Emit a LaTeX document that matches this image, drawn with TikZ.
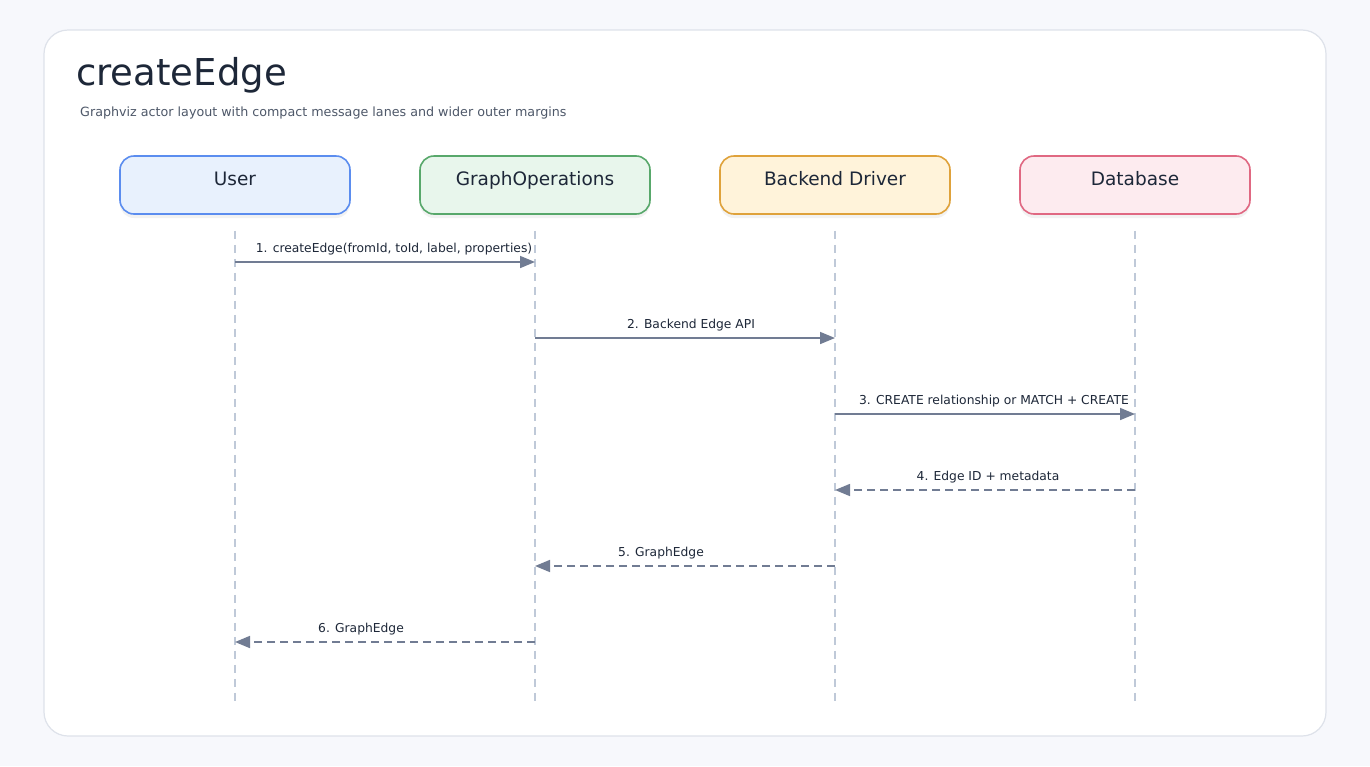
\documentclass[tikz,border=0pt]{standalone}
\usepackage{fontspec}
\setmainfont{DejaVu Sans}
\usetikzlibrary{arrows.meta,shadows}

\definecolor{pagebg}{HTML}{F7F8FC}
\definecolor{cardline}{HTML}{DEE2EA}
\definecolor{ink}{HTML}{1D2738}
\definecolor{subink}{HTML}{4E5869}
\definecolor{wire}{HTML}{717C93}
\definecolor{lane}{HTML}{BFC9D8}
\definecolor{userfill}{HTML}{E8F1FD}
\definecolor{userline}{HTML}{5B8DEF}
\definecolor{opsfill}{HTML}{E8F6EC}
\definecolor{opsline}{HTML}{58A86B}
\definecolor{drvfill}{HTML}{FFF3DA}
\definecolor{drvline}{HTML}{DFA23B}
\definecolor{dbfill}{HTML}{FDEBEF}
\definecolor{dbline}{HTML}{E06882}

\tikzset{
  actor/.style={draw, line width=1.6pt, rounded corners=14pt,
    minimum width=230pt, minimum height=58pt, text=ink,
    font=\fontsize{18.5}{22}\selectfont, text height=15pt, text depth=15pt,
    drop shadow={fill=black, opacity=0.05, shadow xshift=0pt, shadow yshift=-4pt}},
  lifeline/.style={draw=lane, line width=1.3pt, dash pattern=on 8pt off 6pt},
  msg/.style={draw=wire, line width=1.6pt, -{Triangle[length=15pt,width=12pt]}},
  reply/.style={msg, dash pattern=on 8pt off 5pt},
  msglabel/.style={anchor=base, yshift=10pt, inner sep=0pt, text=ink,
    font=\fontsize{12.3}{14}\selectfont}
}

\begin{document}
\begin{tikzpicture}[x=1pt, y=-1pt]
  \useasboundingbox (0,0) rectangle (1370,766);
  \fill[pagebg] (0,0) rectangle (1370,766);
  \draw[cardline, fill=white, line width=1.2pt, rounded corners=24pt] (44,30) rectangle (1326,736);

  % heading
  \node (title) at (76,85) [anchor=base west, inner sep=0pt, text=ink, font=\fontsize{37}{42}\selectfont] {createEdge};
  \node (subtitle) at (80,116) [anchor=base west, inner sep=0pt, text=subink, font=\fontsize{12.7}{15}\selectfont] {Graphviz actor layout with compact message lanes and wider outer margins};

  % actors
  \node (user) at (235,185) [actor, fill=userfill, draw=userline] {User};
  \node (ops)  at (535,185) [actor, fill=opsfill, draw=opsline] {GraphOperations};
  \node (drv)  at (835,185) [actor, fill=drvfill, draw=drvline] {Backend Driver};
  \node (db)   at (1135,185) [actor, fill=dbfill, draw=dbline] {Database};

  \foreach \a in {user,ops,drv,db}
    \draw[lifeline] (\a.south) ++(0,16) -- ++(0,470);

  % message lanes
  \foreach \i/\y in {1/262,2/338,3/414,4/490,5/566,6/642}
    \foreach \a in {user,ops,drv,db}
      \coordinate (\a-\i) at (\a |- 0,\y);

  \draw[msg] (user-1) -- node[msglabel, pos=.53] {1. createEdge(fromId, toId, label, properties)} (ops-1);
  \draw[msg] (ops-2) -- node[msglabel, pos=.52] {2. Backend Edge API} (drv-2);
  \draw[msg] (drv-3) -- node[msglabel, pos=.53] {3. CREATE relationship or MATCH + CREATE} (db-3);
  \draw[reply] (db-4) -- node[msglabel, pos=.49] {4. Edge ID + metadata} (drv-4);
  \draw[reply] (drv-5) -- node[msglabel, pos=.58] {5. GraphEdge} (ops-5);
  \draw[reply] (ops-6) -- node[msglabel, pos=.58] {6. GraphEdge} (user-6);
\end{tikzpicture}
\end{document}
